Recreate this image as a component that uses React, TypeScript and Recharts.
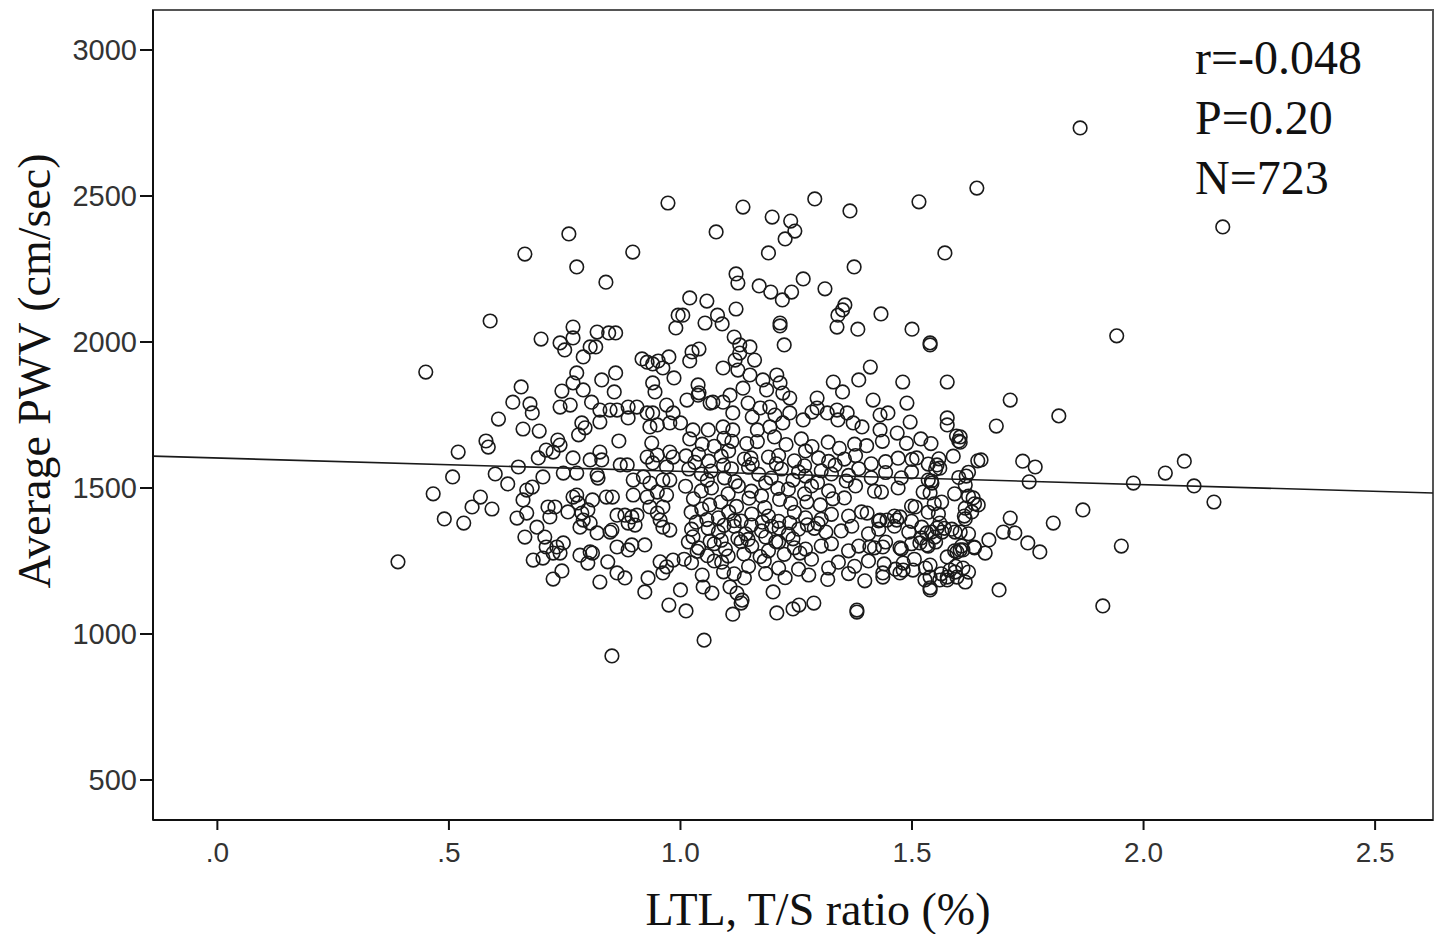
import React from 'react';
import {
  ScatterChart,
  Scatter,
  XAxis,
  YAxis,
  ReferenceLine,
  ReferenceArea,
} from 'recharts';

// LTL (T/S ratio) vs average PWV (cm/sec)
type Pt = [number, number];

const sparsePoints: Pt[] = [
  [0.39, 1247], [0.45, 1897], [0.664, 2301], [0.759, 2370], [0.776, 2257], [0.839, 2205],
  [0.897, 2308], [0.973, 2476], [1.077, 2377], [1.135, 2462], [1.198, 2428], [1.238, 2414],
  [1.247, 2380], [1.226, 2353], [1.19, 2305], [1.29, 2490], [1.366, 2449], [1.375, 2257],
  [1.515, 2480], [1.571, 2305], [1.64, 2527], [1.863, 2733], [2.171, 2394], [1.942, 2021],
  [1.817, 1747], [1.712, 1801], [1.952, 1301], [1.912, 1096], [2.047, 1551], [2.088, 1592],
  [2.109, 1507], [2.152, 1452], [1.978, 1517], [1.869, 1425], [1.805, 1380], [1.776, 1281],
  [1.75, 1312], [1.739, 1592], [1.766, 1572], [1.753, 1521], [1.712, 1397], [1.697, 1349],
  [1.722, 1346], [1.688, 1151], [1.682, 1712], [1.649, 1596], [1.604, 1675], [1.604, 1657],
  [1.617, 1541], [1.615, 1510], [1.632, 1466], [1.643, 1442], [1.615, 1431], [1.615, 1394],
  [1.604, 1349], [1.666, 1322], [1.634, 1298], [1.658, 1277], [1.61, 1288], [1.61, 1226],
  [1.615, 1178], [0.852, 925], [1.051, 979], [0.975, 1099], [1.012, 1079], [1.113, 1068],
  [1.131, 1106], [1.208, 1072], [1.243, 1086], [1.256, 1099], [1.288, 1106], [1.381, 1082],
  [1.381, 1075],
];

const upperLeftPoints: Pt[] = [
  [0.589, 2072], [0.699, 2010], [0.768, 2051], [0.768, 2014], [0.74, 1997], [0.75, 1973],
  [0.79, 1949], [0.805, 1983], [0.817, 1983], [0.82, 2034], [0.845, 2031], [0.86, 2031],
  [0.776, 1894], [0.83, 1870], [0.86, 1894], [0.656, 1846], [0.744, 1832], [0.768, 1860],
  [0.79, 1836], [0.917, 1942], [0.928, 1931], [0.94, 1925], [0.952, 1935], [0.962, 1911],
  [0.975, 1949], [0.857, 1829], [0.94, 1860], [0.945, 1829], [0.986, 1877], [0.995, 2092],
  [0.99, 2048],
];

const upperMidPoints: Pt[] = [
  [1.12, 2233], [1.124, 2202], [1.17, 2192], [1.195, 2171], [1.22, 2144], [1.24, 2171],
  [1.265, 2216], [1.312, 2182], [1.02, 2151], [1.057, 2140], [1.005, 2092], [1.08, 2092],
  [1.09, 2062], [1.12, 2113], [1.053, 2065], [1.215, 2065], [1.215, 2055], [1.224, 1990],
  [1.355, 2127], [1.35, 2110], [1.34, 2092], [1.338, 2051], [1.383, 2044], [1.433, 2096],
  [1.5, 2044], [1.539, 1997], [1.539, 1990], [1.41, 1914], [1.385, 1870], [1.33, 1863],
  [1.35, 1829], [1.48, 1863], [1.576, 1863], [1.025, 1966], [1.04, 1976], [1.02, 1935],
  [1.092, 1911], [1.116, 2017], [1.128, 1990], [1.15, 1983], [1.128, 1962], [1.16, 1938],
  [1.118, 1938], [1.124, 1904], [1.15, 1887], [1.178, 1870], [1.208, 1887], [1.215, 1860],
  [1.186, 1836], [1.038, 1853], [1.04, 1826], [1.135, 1842],
  [1.038, 1818], [1.07, 1794], [1.107, 1818], [1.221, 1825], [1.236, 1808], [1.295, 1808],
  [1.416, 1801], [1.489, 1791],
  [1.014, 1801], [1.064, 1791], [1.092, 1794], [1.113, 1757], [1.146, 1791], [1.155, 1743],
  [1.172, 1774], [1.193, 1777], [1.204, 1750], [1.236, 1757], [1.221, 1723],
  [1.265, 1733], [1.284, 1760], [1.295, 1774], [1.317, 1757], [1.338, 1767], [1.34, 1733],
  [1.36, 1757], [1.373, 1723], [1.392, 1709],
  [1.431, 1750], [1.448, 1757], [1.431, 1699], [1.496, 1726], [1.576, 1740], [1.576, 1716],
  [1.0, 1723], [1.027, 1699], [1.06, 1699], [1.092, 1709], [1.113, 1699], [1.166, 1699],
  [1.193, 1709],
];

const leftCorePoints: Pt[] = [
  [0.52, 1623], [0.466, 1480], [0.508, 1538], [0.49, 1394], [0.532, 1380], [0.55, 1435],
  [0.568, 1469], [0.593, 1428], [0.58, 1661], [0.585, 1640], [0.607, 1736], [0.638, 1794],
  [0.675, 1788], [0.68, 1757], [0.66, 1702], [0.695, 1695], [0.6, 1548], [0.627, 1514],
  [0.65, 1572], [0.693, 1603], [0.71, 1630], [0.725, 1623], [0.735, 1664], [0.74, 1647],
  [0.703, 1538], [0.747, 1551], [0.776, 1551], [0.74, 1777], [0.762, 1784], [0.808, 1794],
  [0.787, 1723], [0.78, 1682], [0.794, 1706], [0.826, 1767], [0.848, 1767], [0.863, 1767],
  [0.826, 1726], [0.887, 1777], [0.906, 1777], [0.887, 1740], [0.867, 1661], [0.768, 1603],
  [0.805, 1596], [0.826, 1623], [0.83, 1596], [0.82, 1545], [0.822, 1534], [0.87, 1579],
  [0.885, 1579], [0.928, 1757], [0.94, 1757], [0.934, 1709], [0.95, 1716], [0.938, 1654],
  [0.928, 1606], [0.95, 1613], [0.977, 1623], [0.97, 1784], [0.984, 1757], [0.977, 1723],
  [0.668, 1493], [0.68, 1503], [0.66, 1459], [0.668, 1414], [0.647, 1397], [0.664, 1332],
  [0.69, 1366], [0.707, 1332], [0.714, 1435], [0.729, 1435], [0.718, 1401], [0.71, 1298],
  [0.733, 1298], [0.747, 1312], [0.74, 1277], [0.682, 1253], [0.703, 1260], [0.725, 1277],
  [0.725, 1188], [0.744, 1216], [0.757, 1418], [0.779, 1449], [0.787, 1414], [0.8, 1425],
  [0.81, 1459], [0.768, 1469], [0.776, 1476], [0.783, 1366], [0.805, 1380], [0.79, 1390],
  [0.82, 1346], [0.783, 1270], [0.805, 1281], [0.81, 1277], [0.8, 1243], [0.843, 1247],
  [0.826, 1178], [0.84, 1469], [0.853, 1469], [0.848, 1349], [0.852, 1356], [0.863, 1407],
  [0.88, 1407], [0.895, 1401], [0.906, 1407], [0.902, 1373], [0.887, 1380], [0.863, 1298],
  [0.887, 1288], [0.895, 1305], [0.923, 1305], [0.863, 1209], [0.88, 1192], [0.923, 1144],
  [0.93, 1192], [0.898, 1527], [0.92, 1538], [0.898, 1476], [0.934, 1517], [0.928, 1469],
  [0.95, 1486], [0.962, 1527], [0.977, 1527], [0.97, 1476], [0.934, 1435], [0.962, 1435],
  [0.95, 1414], [0.956, 1390], [0.962, 1366], [0.977, 1356], [0.956, 1247], [0.97, 1230],
  [0.962, 1209], [0.984, 1253], [0.94, 1586], [0.97, 1572], [0.984, 1606],
];

const centerCorePoints: Pt[] = [
  [1.02, 1668], [1.047, 1650], [1.073, 1643], [1.094, 1670], [1.111, 1660], [1.143, 1652],
  [1.166, 1659], [1.203, 1675], [1.228, 1649], [1.261, 1668], [1.284, 1642], [1.319, 1657],
  [1.343, 1636], [1.376, 1650], [1.402, 1645], [1.436, 1660], [1.468, 1688], [1.488, 1653],
  [1.519, 1668], [1.541, 1652], [1.596, 1678], [1.601, 1661],
  [1.012, 1610], [1.039, 1616], [1.061, 1592], [1.088, 1609], [1.104, 1627], [1.138, 1599],
  [1.155, 1582], [1.19, 1606], [1.212, 1611], [1.246, 1593], [1.27, 1627], [1.298, 1603],
  [1.32, 1591], [1.354, 1599], [1.378, 1611], [1.412, 1583], [1.443, 1590], [1.47, 1602],
  [1.5, 1598], [1.535, 1582], [1.558, 1600], [1.589, 1609], [1.642, 1593],
  [1.018, 1565], [1.045, 1548], [1.066, 1558], [1.095, 1535], [1.11, 1566], [1.147, 1571],
  [1.169, 1547], [1.196, 1534], [1.218, 1565], [1.255, 1555], [1.27, 1541], [1.304, 1559],
  [1.326, 1548], [1.363, 1543], [1.385, 1566], [1.412, 1535], [1.443, 1553], [1.477, 1535],
  [1.499, 1555], [1.542, 1524], [1.551, 1565], [1.601, 1536], [1.622, 1554],
  [1.011, 1506], [1.045, 1490], [1.067, 1500], [1.103, 1480], [1.125, 1507], [1.153, 1489],
  [1.175, 1473], [1.21, 1499], [1.233, 1496], [1.268, 1480], [1.283, 1507], [1.32, 1490],
  [1.354, 1466], [1.378, 1507], [1.419, 1489], [1.434, 1486], [1.47, 1500], [1.499, 1438],
  [1.548, 1446], [1.564, 1452], [1.592, 1480], [1.622, 1472], [1.635, 1446],
  [1.023, 1417], [1.046, 1428], [1.082, 1398], [1.104, 1418], [1.131, 1387], [1.154, 1411],
  [1.19, 1404], [1.212, 1386], [1.246, 1417], [1.27, 1398], [1.304, 1393], [1.326, 1410],
  [1.363, 1404], [1.391, 1418], [1.428, 1387], [1.462, 1404], [1.499, 1386], [1.535, 1417],
  [1.557, 1411], [1.613, 1404], [1.629, 1418],
  [1.024, 1359], [1.06, 1362], [1.082, 1349], [1.116, 1369], [1.141, 1343], [1.175, 1353],
  [1.197, 1369], [1.233, 1342], [1.255, 1359], [1.289, 1362], [1.314, 1349], [1.347, 1353],
  [1.37, 1369], [1.406, 1343], [1.428, 1359], [1.462, 1369], [1.493, 1349], [1.52, 1329],
  [1.542, 1349], [1.57, 1362], [1.586, 1359], [1.622, 1343],
  [1.017, 1315], [1.039, 1295], [1.073, 1309], [1.097, 1291], [1.131, 1316], [1.154, 1301],
  [1.19, 1285], [1.212, 1315], [1.246, 1295], [1.27, 1291], [1.304, 1301], [1.326, 1309],
  [1.363, 1285], [1.385, 1301], [1.419, 1295], [1.443, 1315], [1.477, 1291], [1.499, 1309],
  [1.535, 1301], [1.551, 1315], [1.592, 1285], [1.607, 1301], [1.635, 1295],
  [1.008, 1256], [1.024, 1244], [1.073, 1250], [1.089, 1246], [1.116, 1206], [1.147, 1232],
  [1.181, 1250], [1.212, 1226], [1.255, 1222], [1.283, 1256], [1.32, 1226], [1.341, 1246],
  [1.376, 1232], [1.406, 1250], [1.44, 1240], [1.464, 1222], [1.505, 1256], [1.529, 1226],
  [1.563, 1206], [1.594, 1232], [1.622, 1212],
  [1.0, 1151], [1.049, 1161], [1.068, 1140], [1.107, 1161], [1.122, 1140], [1.133, 1116],
  [1.2, 1144], [1.437, 1195], [1.474, 1209], [1.502, 1219], [1.539, 1195], [1.539, 1158],
  [1.576, 1195], [1.597, 1195],
];

const denseFillPoints: Pt[] = [
  [1.031, 1588], [1.058, 1527], [1.093, 1578], [1.118, 1521], [1.152, 1603], [1.184, 1518],
  [1.207, 1583], [1.243, 1527], [1.268, 1576], [1.296, 1519], [1.334, 1578], [1.358, 1524],
  [1.028, 1463], [1.063, 1442], [1.087, 1452], [1.121, 1437], [1.148, 1465], [1.182, 1433],
  [1.214, 1461], [1.238, 1447], [1.273, 1452], [1.302, 1442], [1.329, 1463],
  [1.034, 1383], [1.057, 1392], [1.094, 1372], [1.116, 1388], [1.153, 1373], [1.177, 1383],
  [1.213, 1362], [1.236, 1381], [1.274, 1374], [1.297, 1378],
  [1.027, 1333], [1.064, 1318], [1.088, 1321], [1.124, 1327], [1.146, 1324], [1.184, 1332],
  [1.206, 1316], [1.243, 1326],
  [1.036, 1283], [1.058, 1268], [1.103, 1267], [1.137, 1274], [1.172, 1265], [1.224, 1273],
  [1.258, 1277],
  [1.047, 1202], [1.093, 1213], [1.138, 1192], [1.184, 1207], [1.226, 1193], [1.277, 1202],
  [1.318, 1187], [1.363, 1207], [1.398, 1182],
];

const rightCorePoints: Pt[] = [
  [1.593, 1349], [1.604, 1288], [1.597, 1281], [1.576, 1264], [1.582, 1219], [1.593, 1212],
  [1.576, 1185], [1.56, 1185], [1.539, 1151], [1.528, 1185], [1.539, 1236], [1.51, 1603],
  [1.554, 1579], [1.56, 1568], [1.535, 1527], [1.543, 1517], [1.524, 1486], [1.539, 1483],
  [1.507, 1435], [1.521, 1366], [1.532, 1346], [1.554, 1363], [1.56, 1380], [1.549, 1332],
  [1.517, 1312], [1.532, 1305], [1.565, 1349], [1.403, 1414], [1.431, 1390], [1.446, 1390],
  [1.467, 1390], [1.474, 1401], [1.409, 1298], [1.437, 1298], [1.474, 1295], [1.481, 1243],
  [1.437, 1209], [1.481, 1219],
];

// least-squares fit line endpoints at the plot edges
const fitLine = [
  { x: -0.139, y: 1609 },
  { x: 2.625, y: 1483 },
];

const xTicks = [0, 0.5, 1, 1.5, 2, 2.5];
const xTickLabels = ['.0', '.5', '1.0', '1.5', '2.0', '2.5'];
const yTicks = [500, 1000, 1500, 2000, 2500, 3000];
const statLines = ['r=-0.048', 'P=0.20', 'N=723'];

const X_DOMAIN: [number, number] = [-0.139, 2.625];
const Y_DOMAIN: [number, number] = [363, 3137];

const SERIF = '"Liberation Serif", "Times New Roman", serif';
const SANS = '"Liberation Sans", Arial, sans-serif';

const allPoints = [
  ...sparsePoints,
  ...upperLeftPoints,
  ...upperMidPoints,
  ...leftCorePoints,
  ...centerCorePoints,
  ...denseFillPoints,
  ...rightCorePoints,
].map(([x, y]) => ({ x, y }));

const Ring = (props: any) => {
  if (props.cx == null || props.cy == null) return null;
  return (
    <circle cx={props.cx} cy={props.cy} r={6.8} fill="none" stroke="#1a1a1a" strokeWidth={1.6} />
  );
};

const XTitle = () => (
  <text x={810} y={917} textAnchor="middle" fontFamily={SERIF} fontSize={46} fill="#111">
    LTL, T/S ratio (%)
  </text>
);

const YTitle = () => (
  <text
    x={26}
    y={363}
    dy="0.35em"
    textAnchor="middle"
    transform="rotate(-90, 26, 363)"
    fontFamily={SERIF}
    fontSize={46}
    fill="#111"
  >
    Average PWV (cm/sec)
  </text>
);

export default function App() {
  return (
    <div style={{ position: 'relative', width: 1435, height: 926 }}>
      <ScatterChart
        width={1435}
        height={926}
        margin={{ top: 2, right: 10, bottom: 0, left: 0 }}
      >
        <XAxis
          type="number"
          dataKey="x"
          domain={X_DOMAIN}
          allowDataOverflow
          ticks={xTicks}
          tickFormatter={(v: number) => xTickLabels[xTicks.indexOf(v)] ?? String(v)}
          height={114}
          tickSize={10}
          tickMargin={12}
          axisLine={{ stroke: '#111', strokeWidth: 2 }}
          tickLine={{ stroke: '#111', strokeWidth: 2 }}
          tick={{ fill: '#333', fontSize: 28, fontFamily: SANS }}
          label={<XTitle />}
        />
        <YAxis
          type="number"
          dataKey="y"
          domain={Y_DOMAIN}
          allowDataOverflow
          ticks={yTicks}
          width={145}
          tickSize={13}
          tickMargin={3}
          axisLine={{ stroke: '#111', strokeWidth: 2 }}
          tickLine={{ stroke: '#111', strokeWidth: 2 }}
          tick={{ fill: '#333', fontSize: 29, fontFamily: SANS }}
          label={<YTitle />}
        />
        <ReferenceArea
          x1={X_DOMAIN[0]}
          x2={X_DOMAIN[1]}
          y1={Y_DOMAIN[0]}
          y2={Y_DOMAIN[1]}
          fill="none"
          stroke="#555"
          strokeWidth={2}
          ifOverflow="visible"
        />
        <Scatter data={allPoints} shape={<Ring />} isAnimationActive={false} />
        <ReferenceLine
          segment={fitLine}
          stroke="#1a1a1a"
          strokeWidth={1.6}
          ifOverflow="visible"
        />
      </ScatterChart>
      <div
        style={{
          position: 'absolute',
          left: 1187,
          top: 20,
          fontFamily: SERIF,
          fontSize: 48,
          lineHeight: '60px',
          color: '#111',
          whiteSpace: 'nowrap',
        }}
      >
        {statLines.map((s) => (
          <div key={s}>{s}</div>
        ))}
      </div>
    </div>
  );
}
